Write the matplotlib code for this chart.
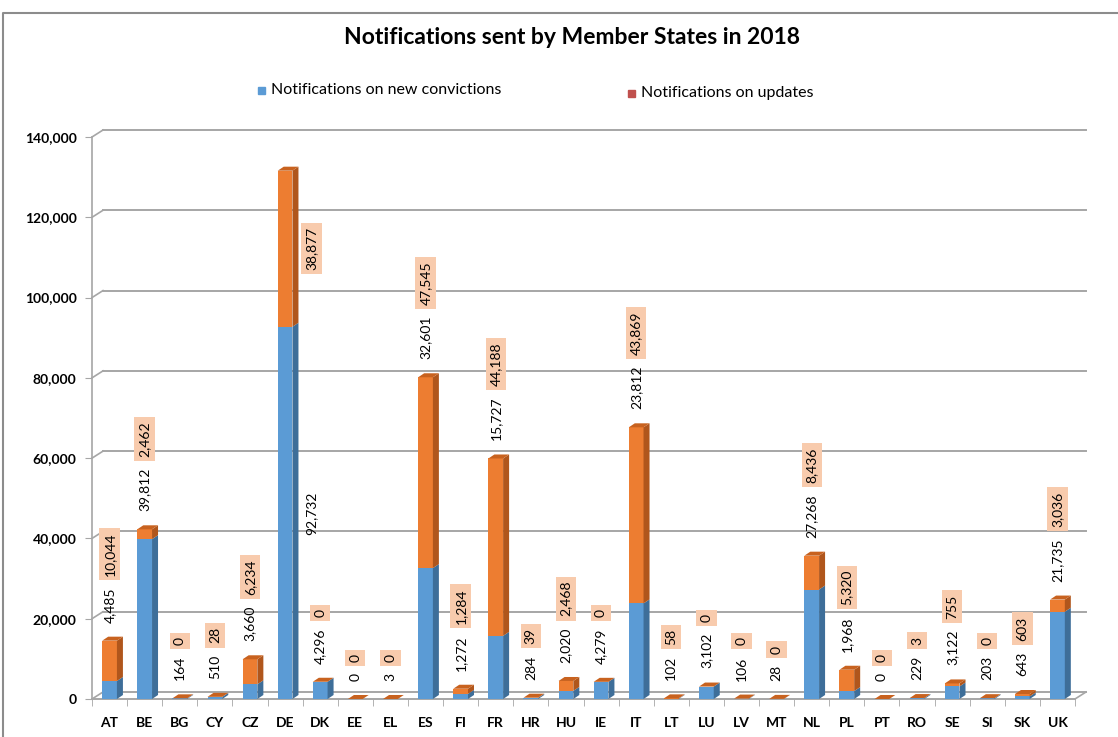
import numpy as np
import matplotlib.pyplot as plt
from matplotlib.patches import Polygon, Rectangle
from matplotlib.lines import Line2D

# data
countries = ['AT', 'BE', 'BG', 'CY', 'CZ', 'DE', 'DK', 'EE', 'EL', 'ES', 'FI', 'FR', 'HR', 'HU',
             'IE', 'IT', 'LT', 'LU', 'LV', 'MT', 'NL', 'PL', 'PT', 'RO', 'SE', 'SI', 'SK', 'UK']
new_convictions = [4485, 39812, 164, 510, 3660, 92732, 4296, 0, 3, 32601, 1272, 15727, 284, 2020,
                   4279, 23812, 102, 3102, 106, 28, 27268, 1968, 0, 229, 3122, 203, 643, 21735]
updates = [10044, 2462, 0, 28, 6234, 38877, 0, 0, 0, 47545, 1284, 44188, 39, 2468,
           0, 43869, 58, 0, 0, 0, 8436, 5320, 0, 3, 755, 0, 603, 3036]
yticks = [0, 20000, 40000, 60000, 80000, 100000, 120000, 140000]

title = 'Notifications sent by Member States in 2018'
legend_labels = ['Notifications on new convictions', 'Notifications on updates']

blue = '#5B9BD5'
blue_side = '#3E6E99'
orange = '#ED7D31'
orange_side = '#B0561C'
orange_top = '#C8621F'
legend_red = '#C0504D'
label_bg = '#F8CBAD'
grid_col = '#A6A6A6'
font = 'Lato'

W, H = 1118, 737
fig = plt.figure(figsize=(W / 100, H / 100), dpi=100)
ax_l, ax_b, ax_w, ax_h = 92, 38, 983, 562
ax = fig.add_axes([ax_l / W, ax_b / H, ax_w / W, ax_h / H])
ax.set_xlim(-0.5, 27.5)
ax.set_ylim(0, 140000)

# pixel -> data helpers
px_x = 28 / ax_w
px_y = 140000 / ax_h

# back wall gridlines and floor (pseudo 3d)
gdx, gdy = 11 * px_x, 7 * px_y
for t in yticks:
    ax.plot([-0.5 + gdx, 27.5 + gdx], [t + gdy, t + gdy], color=grid_col, lw=1.4,
            clip_on=False, zorder=1)
    ax.plot([-0.5, -0.5 + gdx], [t, t + gdy], color=grid_col, lw=1.2, clip_on=False, zorder=1)
ax.plot([-0.5, 27.5], [0, 0], color=grid_col, lw=1.4, clip_on=False, zorder=1)
ax.plot([27.5, 27.5 + gdx], [0, gdy], color=grid_col, lw=1.2, clip_on=False, zorder=1)

# bars
x = np.arange(len(countries))
width = 0.42
new_convictions = np.array(new_convictions)
updates = np.array(updates)
totals = new_convictions + updates
ax.bar(x, new_convictions, width, color=blue, zorder=3)
ax.bar(x, updates, width, bottom=new_convictions, color=orange, zorder=3)

bdx, bdy = 6 * px_x, 4 * px_y
for i in x:
    xl, xr = i - width / 2, i + width / 2
    n, tot = new_convictions[i], totals[i]
    ax.add_patch(Polygon([(xr, 0), (xr + bdx, bdy), (xr + bdx, n + bdy), (xr, n)],
                         closed=True, color=blue_side, lw=0, zorder=3))
    ax.add_patch(Polygon([(xr, n), (xr + bdx, n + bdy), (xr + bdx, tot + bdy), (xr, tot)],
                         closed=True, color=orange_side, lw=0, zorder=3))
    ax.add_patch(Polygon([(xl, tot), (xr, tot), (xr + bdx, tot + bdy), (xl + bdx, tot + bdy)],
                         closed=True, color=orange_top, lw=0, zorder=3))

# value labels
for i in x:
    n, u, tot = new_convictions[i], updates[i], totals[i]
    if tot > 120000:
        # too tall, Excel puts these next to the bar
        ax.annotate(f'{n:,}', xy=(i, n / 2), xytext=(19, 0), textcoords='offset points',
                    rotation=90, ha='center', va='center', fontsize=10, family=font, zorder=5)
        ax.annotate(f'{u:,}', xy=(i, n + u / 2), xytext=(19, 0), textcoords='offset points',
                    rotation=90, ha='center', va='center', fontsize=10, family=font, zorder=5,
                    bbox=dict(fc=label_bg, ec='none', pad=3))
        continue
    b = ax.annotate(f'{n:,}', xy=(i, tot), xytext=(0, 13), textcoords='offset points',
                    rotation=90, ha='center', va='bottom', fontsize=10, family=font, zorder=5)
    ax.annotate(f'{u:,}', xy=(0.5, 1), xycoords=b, xytext=(0, 8), textcoords='offset points',
                rotation=90, ha='center', va='bottom', fontsize=10, family=font, zorder=5,
                bbox=dict(fc=label_bg, ec='none', pad=3))

# axes styling
for s in ['top', 'right', 'bottom']:
    ax.spines[s].set_visible(False)
ax.spines['left'].set_color(grid_col)
ax.spines['left'].set_linewidth(1.2)
ax.set_yticks(yticks)
ax.set_yticklabels([f'{t:,}' for t in yticks], fontsize=10, fontweight='bold', family=font)
ax.tick_params(axis='y', length=5, color=grid_col, pad=6)
ax.set_xticks(x)
ax.set_xticklabels(countries, fontsize=10, fontweight='bold', family=font)
ax.tick_params(axis='x', length=0, pad=13)
ax.set_xticks(np.arange(-0.5, 28, 1), minor=True)
ax.tick_params(axis='x', which='minor', length=5, color=grid_col)

# title and legend
fig.text(572 / W, 1 - 37 / H, title, ha='center', va='center', fontsize=16.5,
         fontweight='bold', family=font)
fig.add_artist(Rectangle((258 / W, 1 - 94 / H), 7 / W, 7 / H, color=blue, transform=fig.transFigure))
fig.text(271 / W, 1 - 90 / H, legend_labels[0], ha='left', va='center', fontsize=11.5, family=font)
fig.add_artist(Rectangle((628 / W, 1 - 97 / H), 7 / W, 7 / H, color=legend_red, transform=fig.transFigure))
fig.text(641 / W, 1 - 93 / H, legend_labels[1], ha='left', va='center', fontsize=11.5, family=font)

# outer chart border
fig.add_artist(Line2D([3 / W, 3 / W, 1.0], [0, 1 - 13 / H, 1 - 13 / H], color='#8C8C8C', lw=1.5,
                      transform=fig.transFigure))

fig.savefig('out.png', dpi=100)
